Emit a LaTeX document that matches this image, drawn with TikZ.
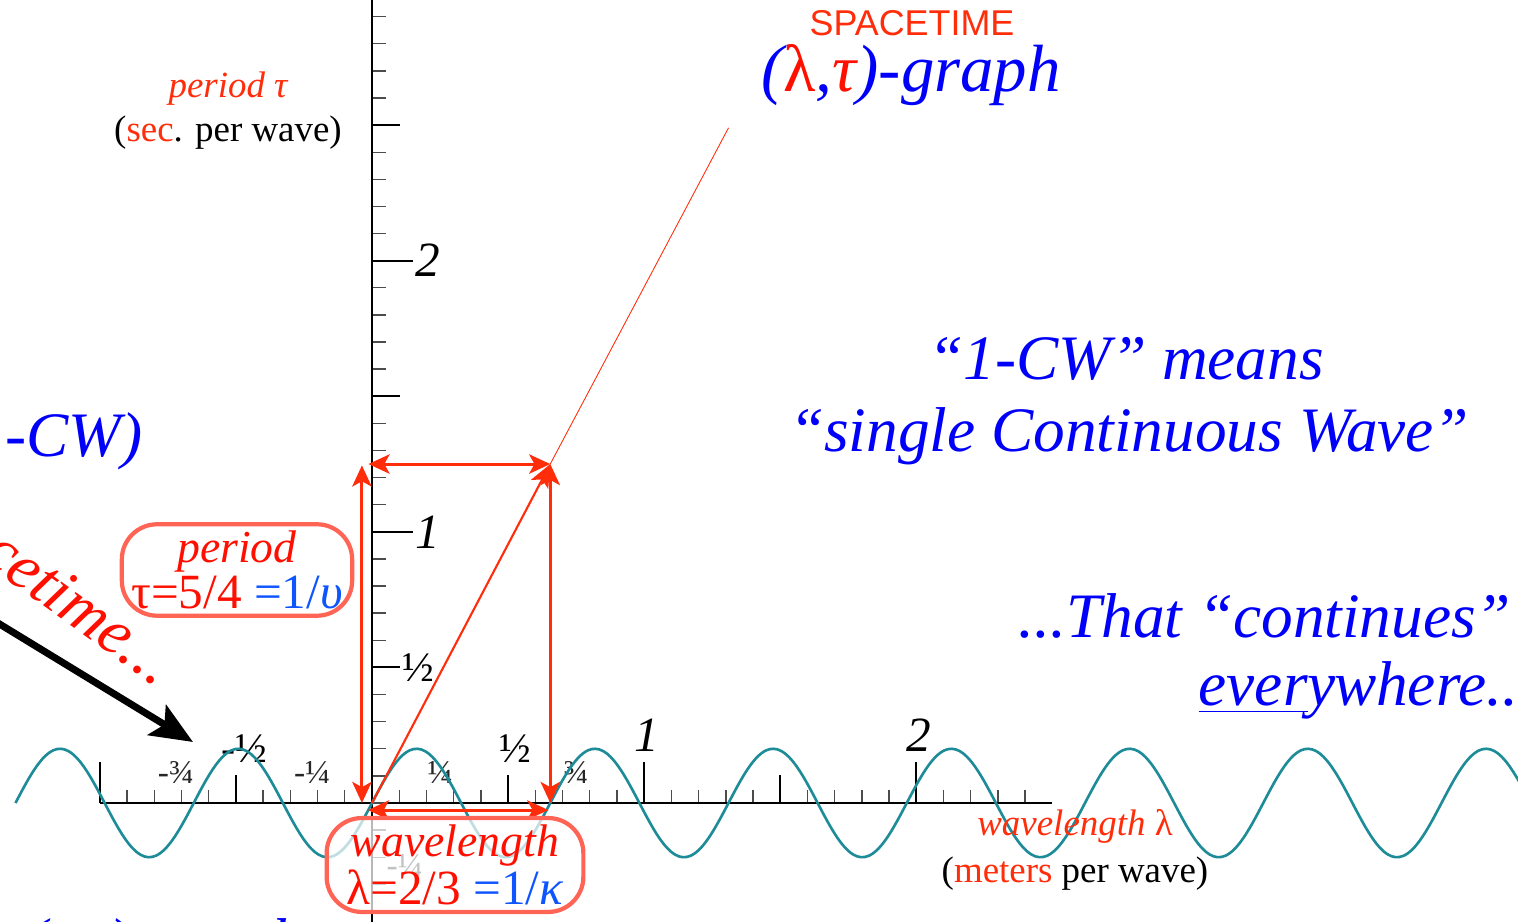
\documentclass[tikz,border=0pt]{standalone}
\usepackage{fontspec}
\setmainfont{Liberation Serif}
\newfontfamily\helvfont{Liberation Sans}
\usetikzlibrary{arrows.meta,positioning}

\definecolor{arrowred}{RGB}{255,45,10}
\definecolor{textred}{RGB}{255,15,0}
\definecolor{boxred}{RGB}{255,100,85}
\definecolor{cwblue}{RGB}{0,0,250}
\definecolor{valblue}{RGB}{15,85,255}
\definecolor{wavecol}{RGB}{30,140,152}

\tikzset{
  dimarrow/.style={arrowred, line width=0.85pt,
    {Stealth[length=6pt,width=5.5pt,inset=1.5pt]}-{Stealth[length=6pt,width=5.5pt,inset=1.5pt]}},
  valbox/.style={draw=boxred, line width=1.2pt, rounded corners=10pt,
    fill=white, fill opacity=0.72, text opacity=1, align=center,
    inner sep=0pt, font=\fontsize{13}{11.5}\selectfont},
  bigblue/.style={text=cwblue, inner sep=0pt, font=\fontsize{18}{20}\selectfont\itshape},
  smalltxt/.style={inner sep=0pt, font=\fontsize{10.5}{10.5}\selectfont},
  majortick/.style={line width=0.6pt},
  minortick/.style={line width=0.4pt, black!70},
  axnum/.style={font=\fontsize{14}{14}\selectfont\itshape},
  halflbl/.style={font=\fontsize{12}{12}\selectfont},
  quartlbl/.style={font=\fontsize{9.5}{9.5}\selectfont, text=black!85},
}

\begin{document}
\begin{tikzpicture}[x=0.01cm, y=-0.01cm]
  \useasboundingbox (0,0) rectangle (1518,922);

  % Graph
  \begin{scope}[shift={(372,803)}, x=2.72cm, y=2.71cm]
    \coordinate (O) at (0,0);

    % Wavelength axis
    \foreach \i in {-10,...,24}
      \draw[minortick] (\i/10,0) -- (\i/10,0.048);
    \foreach \x in {-0.5,0.5,1.5}
      \draw[majortick] (\x,0) -- (\x,0.103);
    \foreach \x in {-1,1,2}
      \draw[majortick] (\x,0) -- (\x,0.15);
    \draw[line width=0.85pt] (-1,0) -- (2.5,0);

    % Period axis
    \foreach \j in {-4,...,30}
      \draw[minortick] (0,\j/10) -- (0.052,\j/10);
    \foreach \y in {0.5,1.5,2.5}
      \draw[majortick] (0,\y) -- (0.103,\y);
    \foreach \y in {1,2}
      \draw[majortick] (0,\y) -- (0.15,\y);
    \draw[line width=0.75pt] (0,-0.45) -- (0,3);

    % Axis labels
    \node[axnum] (xone) at (1.01,0.25) {1};
    \node[axnum] (xtwo) at (2.01,0.25) {2};
    \node[halflbl] (xhalf) at (0.526,0.2) {½};
    \node[halflbl] (xmhalf) at (-0.47,0.2) {-½};
    \node[quartlbl] (xq1) at (0.25,0.114) {¼};
    \node[quartlbl] (xq3) at (0.75,0.114) {¾};
    \node[quartlbl] (xmq1) at (-0.22,0.114) {-¼};
    \node[quartlbl] (xmq3) at (-0.72,0.114) {-¾};
    \node[axnum] (yone) at (0.206,1) {1};
    \node[axnum] (ytwo) at (0.206,2) {2};
    \node[halflbl] (yhalf) at (0.17,0.5) {½};
    \node[quartlbl] (ymq1) at (0.12,-0.23) {-¼};

    % Wave
    \draw[wavecol, line width=0.75pt, domain=-1.31:4.25, samples=400, smooth]
      plot (\x, {0.2*sin(360*\x/0.655)});

    % Dimensions
    \coordinate (L) at (0.655,0);
    \coordinate (T) at (0,1.25);
    \coordinate (P) at (0.655,1.25);
    \coordinate (tauB) at (-0.037,0);
    \coordinate (tauT) at (-0.037,1.245);
    \coordinate (lamL) at (-0.015,-0.026);
    \coordinate (lamR) at (0.648,-0.026);
    \coordinate (G) at (1.31,2.49);
    \draw[dimarrow] (tauB) -- (tauT);
    \draw[dimarrow] ([xshift=-1pt]T) -- (P);
    \draw[dimarrow] (L) -- (P);
    \draw[dimarrow] (lamL) -- (lamR);
    \draw[arrowred, line width=0.6pt, -{Stealth[length=6.5pt,width=5.5pt,inset=1.5pt]}] (O) -- (P);
    \draw[arrowred, line width=0.25pt] (P) -- (G);
  \end{scope}

  % Value boxes
  \node[valbox, minimum width=65.5pt, minimum height=26pt] (perbox) at (237,570)
    {\textcolor{textred}{\itshape period}\\
     {\fontsize{14}{11.5}\selectfont\textcolor{textred}{τ=5/4} \textcolor{valblue}{=1/\textit{υ}}}};
  \node[valbox, minimum width=73pt, minimum height=26.7pt] (lambox) at (455,865)
    {\textcolor{textred}{\itshape wavelength}\\
     {\fontsize{14}{11.5}\selectfont\textcolor{textred}{λ=2/3} \textcolor{valblue}{=1/\textit{κ}}}};

  % Titles
  \node[inner sep=0pt, font=\helvfont\fontsize{10.2}{10}\selectfont, text=arrowred, anchor=base] (st) at (912,36) {SPACETIME};
  \node[bigblue, font=\fontsize{19}{20}\selectfont\itshape, anchor=base] (lt) at (911,92)
    {(\textcolor{textred}{\upshape λ},\textcolor{textred}{τ})-graph};
  \node[smalltxt, text=arrowred, font=\fontsize{10.5}{10.5}\selectfont\itshape, anchor=base] (tauname) at (228,98) {period τ};
  \node[smalltxt, anchor=base] (tauunit) at (228,142)
    {(\textcolor{arrowred}{sec}. per wave)};
  \node[smalltxt, text=arrowred, font=\fontsize{10.5}{10.5}\selectfont\itshape, anchor=base] (lamname) at (1075,836)
    {wavelength {\upshape λ}};
  \node[smalltxt, anchor=base] (lamunit) at (1075,882)
    {(\textcolor{arrowred}{meters} per wave)};

  % Notes
  \node[bigblue, anchor=base] (cw1) at (1126,380) {“1-CW” means};
  \node[bigblue, anchor=base] (cw2) at (1129,452) {“single Continuous Wave”};
  \node[bigblue, anchor=base west] (cont1) at (1018,638) {...That “continues”};
  \node[bigblue, anchor=base west] (cont2) at (1198,706)
    {\underline{ever}y\kern-0.5pt where...};
  \node[bigblue, anchor=base east] (cwleft) at (143,457) {(1-CW)};
  \node[bigblue, anchor=base west] (xtgraph) at (26,962) {(x,t)-graph};
  \node[text=textred, inner sep=0pt, font=\fontsize{18.5}{20}\selectfont\itshape, anchor=base east, rotate=-36]
    (stleft) at (157,688) {spacetime...};

  % Pointer
  \coordinate (ptrstart) at (-30,606);
  \coordinate (ptrend) at (193,742);
  \draw[line width=2pt, -{Stealth[length=12pt,width=10pt,inset=2.5pt]}] (ptrstart) -- (ptrend);
\end{tikzpicture}
\end{document}
